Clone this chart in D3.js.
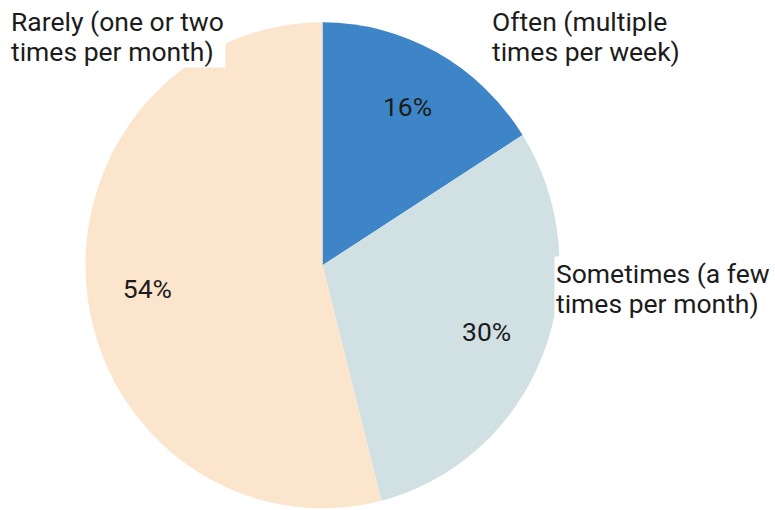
<!DOCTYPE html>
<html>
<head>
<meta charset="utf-8">
<script src="https://cdn.jsdelivr.net/npm/d3@7"></script>
<style>
  html, body { margin: 0; padding: 0; background: #ffffff; }
  svg { display: block; }
  text { font-family: Roboto, "Liberation Sans", Arial, sans-serif; fill: #1c1c1c; }
</style>
</head>
<body>
<svg id="chart" width="775" height="510"></svg>
<script>
// ---- data ----
const categories = [
  "Often (multiple times per week)",
  "Sometimes (a few times per month)",
  "Rarely (one or two times per month)"
];
const labelLines = [
  ["Often (multiple", "times per week)"],
  ["Sometimes (a few", "times per month)"],
  ["Rarely (one or two", "times per month)"]
];
const values = [16, 30, 54];
const colors = ["#3d85c6", "#d0e0e3", "#fce5cd"];

// ---- layout ----
const W = 775, H = 510;
const cx = 322.5, cy = 265.3;
const ry = 243, rx = 237;
const fontSize = 26.5;
const lineGap = 30;
// outside label anchors (left x, first baseline y)
const labelPos = [
  { x: 492, y: 30.5 },
  { x: 556, y: 282.5 },
  { x: 11,  y: 30.5 }
];

const svg = d3.select("#chart");

const pie = d3.pie().sort(null).value(d => d)
  .startAngle(0).endAngle(2 * Math.PI);
const arcs = pie(values);

const arc = d3.arc().innerRadius(0).outerRadius(ry);
const labelArc = d3.arc().innerRadius(ry * 0.745).outerRadius(ry * 0.745);

const pieG = svg.append("g")
  .attr("transform", `translate(${cx},${cy}) scale(${rx / ry},1)`);

pieG.selectAll("path.slice")
  .data(arcs)
  .join("path")
  .attr("class", "slice")
  .attr("d", arc)
  .attr("fill", (d, i) => colors[i]);

// percentage labels
const total = d3.sum(values);
const pctG = svg.append("g").attr("transform", `translate(${cx},${cy})`);
pctG.selectAll("text.pct")
  .data(arcs)
  .join("text")
  .attr("class", "pct")
  .attr("x", d => labelArc.centroid(d)[0] * rx / ry)
  .attr("y", d => labelArc.centroid(d)[1])
  .attr("text-anchor", "middle")
  .attr("dy", "0.36em")
  .attr("font-size", fontSize)
  .text(d => Math.round(d.data / total * 100) + "%");

// outside category labels with white background
const labG = svg.append("g");
labelLines.forEach((lines, i) => {
  const g = labG.append("g");
  const rect = g.append("rect").attr("fill", "#ffffff");
  const t = g.append("text")
    .attr("font-size", fontSize)
    .attr("x", labelPos[i].x)
    .attr("y", labelPos[i].y);
  lines.forEach((ln, j) => {
    t.append("tspan")
      .attr("x", labelPos[i].x)
      .attr("dy", j === 0 ? 0 : lineGap)
      .text(ln);
  });
  const bb = t.node().getBBox();
  rect.attr("x", bb.x - 1.5).attr("y", bb.y - 1)
    .attr("width", bb.width + 3).attr("height", bb.height + 2);
});
</script>
</body>
</html>
